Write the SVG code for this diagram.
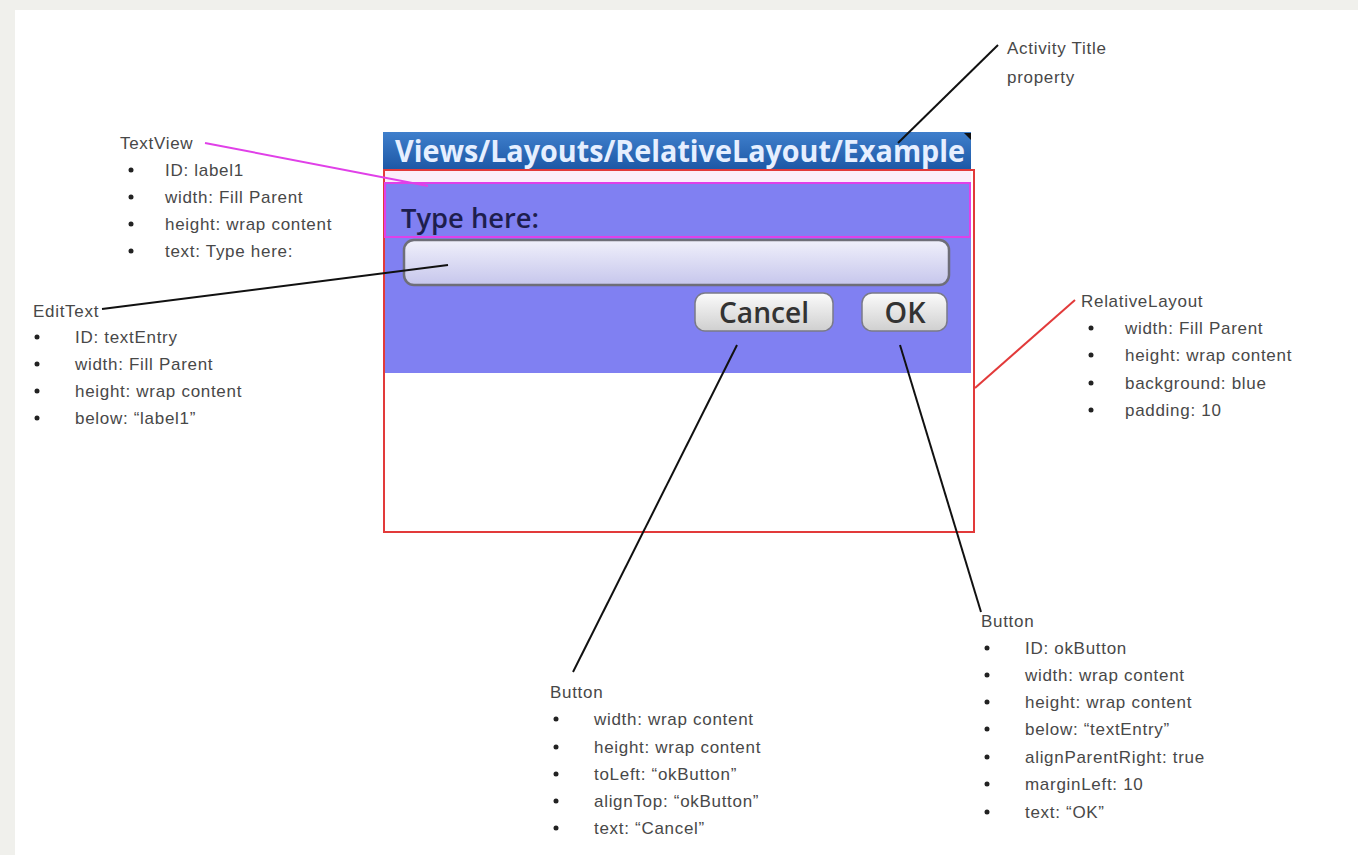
<svg xmlns="http://www.w3.org/2000/svg" width="1358" height="855" viewBox="0 0 1358 855">
<defs>
<linearGradient id="gTitle" x1="0" y1="0" x2="0" y2="1"><stop offset="0" stop-color="#3f7fcc"/><stop offset="1" stop-color="#1d58a6"/></linearGradient>
<linearGradient id="gEdit" x1="0" y1="0" x2="0" y2="1"><stop offset="0" stop-color="#f0f0fb"/><stop offset="1" stop-color="#c6c6ec"/></linearGradient>
<linearGradient id="gBtn" x1="0" y1="0" x2="0" y2="1"><stop offset="0" stop-color="#fbfbfb"/><stop offset="1" stop-color="#cfcfcf"/></linearGradient>
<style>
.t{font-family:"Liberation Sans",Arial,sans-serif;font-size:17px;fill:#484848;letter-spacing:0.7px}
.b{fill:#222}
.ui{font-family:"Open Sans","DejaVu Sans",sans-serif}
.c{fill:none;stroke:#111;stroke-width:2}
</style>
</defs>
<rect x="0" y="0" width="1358" height="855" fill="#f0f0ec"/>
<rect x="15" y="10" width="1343" height="845" fill="#ffffff"/>

<g id="screen">
<rect x="383" y="132" width="588" height="37" fill="url(#gTitle)"/>
<text class="ui" x="395" y="162" font-size="30" font-weight="bold" fill="#e6efff" textLength="570" lengthAdjust="spacingAndGlyphs">Views/Layouts/RelativeLayout/Example</text>
<path d="M964,133 L971,133 L971,140 Z" fill="#111"/>
<rect x="385" y="171" width="586" height="12" fill="#fbeefa"/>
<rect x="385" y="183" width="586" height="190" fill="#8080f2"/>
<rect x="385" y="373" width="586" height="158" fill="#ffffff"/>
</g>

<g id="relativeLayout">
<rect x="384" y="170" width="590" height="362" fill="none" stroke="#e23a3a" stroke-width="2"/>
</g>

<g id="textView">
<rect x="385" y="183" width="585" height="54" fill="none" stroke="#e040e8" stroke-width="2"/>
<text class="ui" x="401" y="228" font-size="27" font-weight="600" fill="#1e1e4e" textLength="138" lengthAdjust="spacingAndGlyphs">Type here:</text>
</g>

<g id="editText">
<rect x="404" y="240" width="545" height="45" rx="10" fill="url(#gEdit)" stroke="#6e6e78" stroke-width="2.5"/>
</g>

<g id="cancelButton">
<rect x="695" y="293" width="138" height="38" rx="10" fill="url(#gBtn)" stroke="#7a7a88" stroke-width="1.5"/>
<text class="ui" x="764" y="323" font-size="29" font-weight="600" fill="#333" text-anchor="middle" textLength="90" lengthAdjust="spacingAndGlyphs">Cancel</text>
</g>

<g id="okButton">
<rect x="862" y="293" width="85" height="38" rx="10" fill="url(#gBtn)" stroke="#7a7a88" stroke-width="1.5"/>
<text class="ui" x="905" y="323" font-size="29" font-weight="600" fill="#333" text-anchor="middle" textLength="41" lengthAdjust="spacingAndGlyphs">OK</text>
</g>

<g id="connectors">
<line class="c" x1="998" y1="45" x2="898" y2="143"/>
<line x1="205" y1="143" x2="428" y2="186" stroke="#e040e8" stroke-width="2"/>
<line class="c" x1="102" y1="309" x2="448" y2="265"/>
<line class="c" x1="737" y1="345" x2="573" y2="672"/>
<line class="c" x1="900" y1="345" x2="981" y2="612"/>
<line x1="975" y1="388" x2="1075" y2="300" stroke="#e23a3a" stroke-width="2"/>
</g>

<g id="noteActivityTitle">
<text class="t" x="1007" y="54">Activity Title</text>
<text class="t" x="1007" y="83">property</text>
</g>

<g id="noteTextView">
<text class="t" x="120" y="149">TextView</text>
<circle class="b" cx="131" cy="170" r="2.5"/><text class="t" x="165" y="176">ID: label1</text>
<circle class="b" cx="131" cy="197" r="2.5"/><text class="t" x="165" y="203">width: Fill Parent</text>
<circle class="b" cx="131" cy="224" r="2.5"/><text class="t" x="165" y="230">height: wrap content</text>
<circle class="b" cx="131" cy="251" r="2.5"/><text class="t" x="165" y="257">text: Type here:</text>
</g>

<g id="noteEditText">
<text class="t" x="33" y="317">EditText</text>
<circle class="b" cx="37" cy="337" r="2.5"/><text class="t" x="75" y="343">ID: textEntry</text>
<circle class="b" cx="37" cy="364" r="2.5"/><text class="t" x="75" y="370">width: Fill Parent</text>
<circle class="b" cx="37" cy="391" r="2.5"/><text class="t" x="75" y="397">height: wrap content</text>
<circle class="b" cx="37" cy="418" r="2.5"/><text class="t" x="75" y="424">below: “label1”</text>
</g>

<g id="noteRelativeLayout">
<text class="t" x="1081" y="307">RelativeLayout</text>
<circle class="b" cx="1091" cy="328" r="2.5"/><text class="t" x="1125" y="334">width: Fill Parent</text>
<circle class="b" cx="1091" cy="355" r="2.5"/><text class="t" x="1125" y="361">height: wrap content</text>
<circle class="b" cx="1091" cy="383" r="2.5"/><text class="t" x="1125" y="389">background: blue</text>
<circle class="b" cx="1091" cy="410" r="2.5"/><text class="t" x="1125" y="416">padding: 10</text>
</g>

<g id="noteCancelButton">
<text class="t" x="550" y="698">Button</text>
<circle class="b" cx="556" cy="719" r="2.5"/><text class="t" x="594" y="725">width: wrap content</text>
<circle class="b" cx="556" cy="747" r="2.5"/><text class="t" x="594" y="753">height: wrap content</text>
<circle class="b" cx="556" cy="774" r="2.5"/><text class="t" x="594" y="780">toLeft: “okButton”</text>
<circle class="b" cx="556" cy="801" r="2.5"/><text class="t" x="594" y="807">alignTop: “okButton”</text>
<circle class="b" cx="556" cy="828" r="2.5"/><text class="t" x="594" y="834">text: “Cancel”</text>
</g>

<g id="noteOkButton">
<text class="t" x="981" y="627">Button</text>
<circle class="b" cx="987" cy="648" r="2.5"/><text class="t" x="1025" y="654">ID: okButton</text>
<circle class="b" cx="987" cy="675" r="2.5"/><text class="t" x="1025" y="681">width: wrap content</text>
<circle class="b" cx="987" cy="702" r="2.5"/><text class="t" x="1025" y="708">height: wrap content</text>
<circle class="b" cx="987" cy="729" r="2.5"/><text class="t" x="1025" y="735">below: “textEntry”</text>
<circle class="b" cx="987" cy="757" r="2.5"/><text class="t" x="1025" y="763">alignParentRight: true</text>
<circle class="b" cx="987" cy="784" r="2.5"/><text class="t" x="1025" y="790">marginLeft: 10</text>
<circle class="b" cx="987" cy="812" r="2.5"/><text class="t" x="1025" y="818">text: “OK”</text>
</g>
</svg>
